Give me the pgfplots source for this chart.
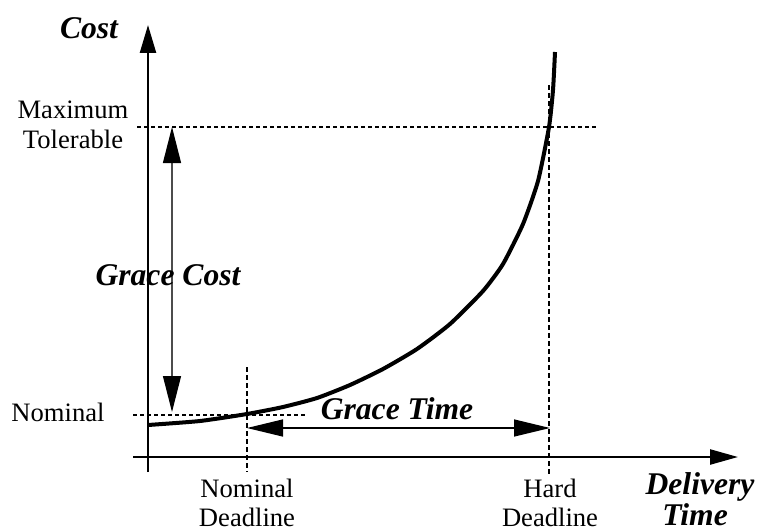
\documentclass[border=0pt]{standalone}
\usepackage{pgfplots}
\pgfplotsset{compat=1.18}
\usetikzlibrary{arrows.meta}
\usepackage{fontspec}
\setmainfont{Liberation Serif}
\newcommand{\reg}{\fontsize{13.3pt}{15pt}\selectfont}
\newcommand{\bi}{\fontsize{15.8pt}{18pt}\selectfont\bfseries\itshape}
\begin{document}
\begin{tikzpicture}
\begin{axis}[
  width=379pt, height=265.5pt, scale only axis,
  xmin=0, xmax=758, ymin=0, ymax=531,
  hide axis, clip=false,
]
\coordinate (ll) at (axis cs:0,0);
\coordinate (ur) at (axis cs:758,531);
% dashed reference lines
\addplot[black, line width=0.7pt, dash pattern=on 2pt off 1.5pt] coordinates {(137,404) (597,404)};
\addplot[black, line width=0.7pt, dash pattern=on 2pt off 1.5pt] coordinates {(133,116) (305,116)};
\addplot[black, line width=0.55pt, dash pattern=on 2.5pt off 1.5pt] coordinates {(247,164) (247,59)};
\addplot[black, line width=0.55pt, dash pattern=on 2.5pt off 1.5pt] coordinates {(549,446) (549,56)};
% axes
\draw[black, line width=1.2pt, -{Triangle[length=14pt,width=8pt]}] (axis cs:148,59) -- (axis cs:148,506);
\draw[black, line width=1.2pt, -{Triangle[length=14pt,width=7.5pt]}] (axis cs:133,74) -- (axis cs:738,74);
% cost curve
\addplot[black, line width=2pt, smooth, tension=0.35] coordinates {
(148,106) (200,110) (247,117) (283,124) (317,133) (350,146) (383,162)
(417,182) (450,207) (483,240) (503,267) (523,307) (538,350) (549,404)
(553,441) (555,479)};
% grace arrows
\draw[black!70, line width=0.6pt, {Triangle[length=18pt,width=9pt,color=black]}-{Triangle[length=18pt,width=9pt,color=black]}] (axis cs:172,119) -- (axis cs:172,404);
\draw[black, line width=0.7pt, {Triangle[length=18pt,width=8.5pt]}-{Triangle[length=18pt,width=8.5pt]}] (axis cs:247,103) -- (axis cs:550,103);
% labels
\node[anchor=base, inner sep=0pt] at (axis cs:89,492) {\bi Cost};
\node[anchor=base, inner sep=0pt] at (axis cs:73,413) {\reg Maximum};
\node[anchor=base, inner sep=0pt] at (axis cs:73,383) {\reg Tolerable};
\node[anchor=base, inner sep=0pt] at (axis cs:58,110) {\reg Nominal};
\node[anchor=base, inner sep=0pt] at (axis cs:168,246) {\bi Grace Cost};
\node[anchor=base, inner sep=0pt] at (axis cs:397,112) {\bi Grace Time};
\node[anchor=base, inner sep=0pt] at (axis cs:247,34) {\reg Nominal};
\node[anchor=base, inner sep=0pt] at (axis cs:247,5) {\reg Deadline};
\node[anchor=base, inner sep=0pt] at (axis cs:550,34) {\reg Hard};
\node[anchor=base, inner sep=0pt] at (axis cs:550,5) {\reg Deadline};
\node[anchor=base, inner sep=0pt] at (axis cs:700,37) {\bi Delivery};
\node[anchor=base, inner sep=0pt] at (axis cs:695,6) {\bi Time};
\end{axis}
\pgfresetboundingbox
\path (ll) rectangle (ur);
\end{tikzpicture}
\end{document}
